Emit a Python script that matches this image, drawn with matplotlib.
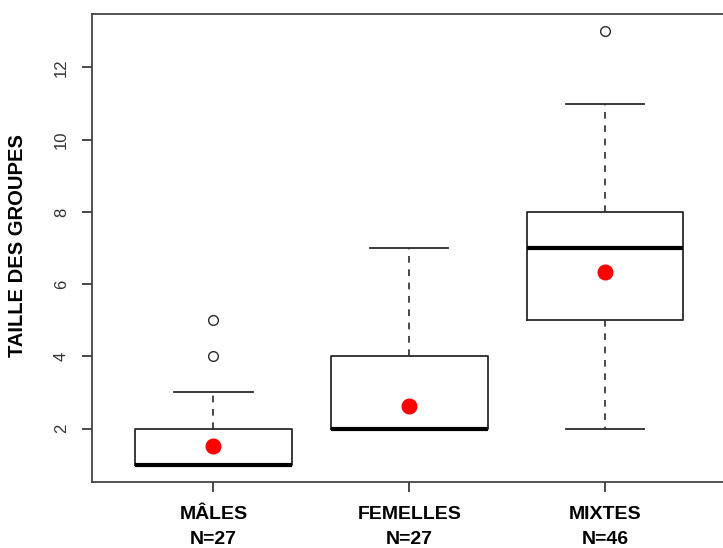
import matplotlib
matplotlib.use("Agg")
import matplotlib.pyplot as plt

categories = ["MÂLES\nN=27", "FEMELLES\nN=27", "MIXTES\nN=46"]
q1 = [1, 2, 5]
medians = [1, 2, 7]
q3 = [2, 4, 8]
whisker_low = [1, 2, 2]
whisker_high = [3, 7, 11]
outliers = [[4, 5], [], [13]]
means = [1.52, 2.63, 6.33]
yticks = [2, 4, 6, 8, 10, 12]

plt.rcParams['font.family'] = ['Liberation Sans', 'DejaVu Sans']

fig = plt.figure(figsize=(7.23, 5.48), dpi=100)
ax = fig.add_axes([92/723, 1-482/548, (726.5-92)/723, (482-14)/548])

stats = []
for i in range(len(categories)):
    stats.append(dict(q1=q1[i], med=medians[i], q3=q3[i],
                      whislo=whisker_low[i], whishi=whisker_high[i],
                      fliers=outliers[i], label=categories[i]))

positions = [1, 2, 3]
edge = '#2a2a2a'
ax.bxp(stats, positions=positions, widths=0.8, showfliers=True,
       boxprops=dict(color=edge, linewidth=1.3),
       medianprops=dict(color='black', linewidth=3.0),
       whiskerprops=dict(color=edge, linewidth=1.2, linestyle=(0, (4, 4))),
       capprops=dict(color=edge, linewidth=1.3),
       capwidths=0.4,
       flierprops=dict(marker='o', markerfacecolor='white', markeredgecolor=edge,
                       markersize=7, markeredgewidth=1.0))
ax.plot(positions, means, linestyle='none', marker='o', color='red',
        markersize=10.5, zorder=5)

ax.set_xlim(0.38, 3.62)
ax.set_ylim(0.52, 13.48)
ax.set_yticks(yticks)
ax.set_yticklabels([str(v) for v in yticks], rotation=90, va='center',
                   fontsize=12, color='#333333')
ax.set_xticks(positions)
ax.set_xticklabels(categories, fontsize=14, fontweight='bold',
                   linespacing=1.6)
ax.tick_params(axis='y', length=7.5, width=1.2, pad=9, color=edge)
ax.tick_params(axis='x', length=7.5, width=1.2, pad=10, color=edge)
for s in ax.spines.values():
    s.set_color('#444444')
    s.set_linewidth(1.3)

fig.text(18/723, 1-246/548, "TAILLE DES GROUPES", rotation=90,
         ha='center', va='center', fontsize=14.5, fontweight='bold')

fig.savefig("out.png", dpi=100)
